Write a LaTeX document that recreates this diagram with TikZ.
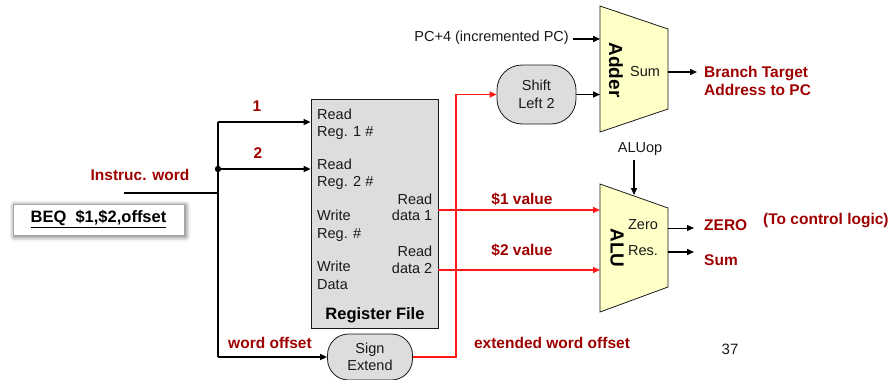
\documentclass[tikz,border=0pt]{standalone}
\usepackage{fontspec}
\setmainfont{Liberation Sans}
\usetikzlibrary{arrows.meta,shadows.blur}
\definecolor{lblred}{RGB}{158,0,0}
\definecolor{wirered}{RGB}{255,25,25}
\definecolor{boxgray}{RGB}{221,221,221}
\definecolor{unitfill}{RGB}{255,255,200}
\definecolor{ink}{RGB}{25,25,25}
\newcommand{\regfont}{\fontsize{14.5}{17.5}\selectfont}
\newcommand{\lblfont}{\fontsize{15.5}{18}\selectfont\bfseries}
\tikzset{
  tip/.style={-{Triangle[length=7pt,width=6pt]}},
  wire/.style={line width=1.5pt, draw=black, tip},
  plainwire/.style={line width=1.5pt, draw=black},
  thinwire/.style={line width=0.8pt, draw=black, tip},
  redwire/.style={line width=1.5pt, draw=wirered, tip},
  regbox/.style={draw=ink, line width=0.8pt, fill=boxgray},
  pill/.style={draw=ink, line width=0.8pt, fill=boxgray, rounded corners=21pt,
    align=center, font=\regfont, text=ink, inner sep=0pt},
  unit/.style={draw=ink, line width=0.8pt, fill=unitfill},
  txt/.style={font=\regfont, text=ink, inner sep=0pt},
  lbl/.style={font=\lblfont, text=lblred, inner sep=0pt},
  unitname/.style={font=\fontsize{19}{22}\selectfont\bfseries, rotate=-90, inner sep=0pt},
}
\begin{document}
\begin{tikzpicture}[x=1pt,y=-1pt]
\useasboundingbox (0,0) rectangle (892,380);

% ---------- instruction word and its fields ----------
\node[draw=gray!70, line width=0.5pt, fill=white, minimum width=171pt, minimum height=31pt,
  blur shadow={shadow xshift=1.5pt, shadow yshift=-1.5pt, shadow blur radius=5pt, shadow opacity=70}]
  (beq) at (98.5,219.5) {};
\node[font=\fontsize{16.5}{19}\selectfont\bfseries, inner sep=0pt] (beqtext) at (98.5,219)
  {\underline{BEQ\ \ \$1,\$2,offset}};

\coordinate (iw) at (124,193);
\coordinate (bi) at (218,193);
\coordinate (bt) at (218,122);
\coordinate (jn) at (218,169);
\coordinate (bb) at (218,357);

\node[lbl] (lInstr) at (140,175) {Instruc. word};
\node[lbl] (lone) at (257,106) {1};
\node[lbl] (ltwo) at (258,153) {2};
\node[lbl] (lwoff) at (270,343) {word offset};

% ---------- register file ----------
\node[regbox, minimum width=127pt, minimum height=229pt, inner sep=0pt] (rf) at (374.5,213.5) {};
\foreach \t/\yy [count=\i] in {Read/119.3, Reg. 1 \#/136.8, Read/169, Reg. 2 \#/186.7,
    Write/220.7, Reg. \#/238.7, Write/271.7, Data/289.3}
  \node[txt, anchor=base west] (rl\i) at (317,\yy) {\t};
\foreach \t/\yy [count=\i] in {Read/204, data 1/220.7, Read/256, data 2/273.3}
  \node[txt, anchor=base east] (rr\i) at (432.5,\yy) {\t};
\node[font=\fontsize{16.5}{19}\selectfont\bfseries, inner sep=0pt, anchor=base] (rfname) at (375,319.3) {Register File};

% ---------- sign extend and shift ----------
\node[pill, minimum width=85pt, minimum height=46pt] (se) at (370,357) {Sign\\Extend};
\node[pill, minimum width=79pt, minimum height=59pt, rounded corners=25pt] (sl) at (536.5,94.5) {Shift\\Left 2};
\coordinate (rtop) at (456,94.5);
\node[lbl] (lext) at (552,343) {extended word offset};

% ---------- adder ----------
\coordinate (a1) at (600,6);
\coordinate (a2) at (668,29);
\coordinate (a3) at (668,109);
\coordinate (a4) at (600,132);
\draw[unit] (a1) -- (a2) -- (a3) -- (a4) -- cycle;
\node[unitname] (addername) at (616,70) {Adder};
\node[txt] (addsum) at (645,72) {Sum};
\coordinate (ain1) at (600,39);
\coordinate (ain2) at (600,94.5);
\coordinate (aout) at (668,72);
\coordinate (aend) at (697,72);
\node[txt, anchor=east] (pc4) at (569,38) {PC+4 (incremented PC)};
\node[lbl, anchor=west, align=left, font=\fontsize{15.5}{18}\selectfont\bfseries] (btgt) at (704,81)
  {Branch Target\\Address to PC};

% ---------- ALU ----------
\coordinate (u1) at (600,184);
\coordinate (u2) at (668,208);
\coordinate (u3) at (668,287);
\coordinate (u4) at (600,312);
\draw[unit] (u1) -- (u2) -- (u3) -- (u4) -- cycle;
\node[unitname] (aluname) at (617,248) {ALU};
\node[txt] (zero) at (643,225) {Zero};
\node[txt] (res) at (643,251) {Res.};
\node[txt] (aluop) at (640,149) {ALUop};
\coordinate (opend) at (634,195);
\coordinate (uin1) at (600,210);
\coordinate (uin2) at (600,270);
\coordinate (zout) at (668,228);
\coordinate (zend) at (694,228);
\coordinate (rout) at (668,252);
\coordinate (rend) at (694,252);
\node[lbl] (l1v) at (522,199) {\$1 value};
\node[lbl] (l2v) at (522,250) {\$2 value};
\node[lbl, anchor=west] (lzero) at (704,225) {ZERO};
\node[lbl, anchor=west] (lsum) at (704,260) {Sum};
\node[lbl, anchor=west] (lctl) at (763,221) {(To control logic)};

\node[txt, font=\fontsize{15}{18}\selectfont] (pgno) at (730,349) {37};

% ---------- connectors ----------
\draw[plainwire] (iw) -- (bi);
\draw[plainwire] (bt) -- (bb);
\draw[wire] (bt) -- (rf.west |- bt);
\draw[wire] (jn) -- (rf.west |- jn);
\fill (jn) circle (3.2pt);
\draw[wire] (bb) -- (se.west);

\draw[redwire] (se.east) -| (rtop) -- (sl.west);
\draw[redwire] (rf.east |- uin1) -- (uin1);
\draw[redwire] (rf.east |- uin2) -- (uin2);

\draw[wire] (pc4.east) ++(4,1) -- (ain1);
\draw[wire] (sl.east) -- (ain2);
\draw[wire] (aout) -- (aend);

\draw[wire] (aluop.south -| opend) ++(0,4) -- (opend);
\draw[thinwire] (zout) -- (zend);
\draw[wire] (rout) -- (rend);
\end{tikzpicture}
\end{document}
